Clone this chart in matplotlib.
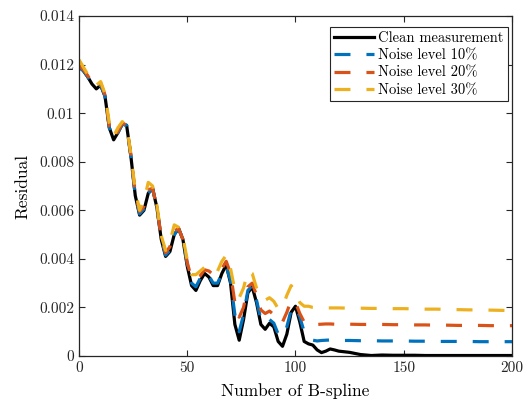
import numpy as np
import matplotlib
matplotlib.use('Agg')
import matplotlib.pyplot as plt
from matplotlib.ticker import FuncFormatter

plt.rcParams['font.family'] = ['cmr10', 'DejaVu Serif']
plt.rcParams['mathtext.fontset'] = 'cm'

# number of B-spline (x axis)
n_bspline = list(range(0, 122, 2)) + list(range(125, 205, 5))

# residual values, in units of 1e-3
clean = [11.9, 11.75, 11.5, 11.2, 11.0, 11.15, 10.7, 9.4, 8.9, 9.2,
         9.55, 9.5, 8.2, 6.6, 5.8, 6.0, 6.7, 6.9, 6.1, 4.8,
         4.1, 4.3, 5.0, 5.25, 4.8, 3.7, 2.9, 2.7, 3.1, 3.4,
         3.25, 2.9, 2.9, 3.4, 3.75, 3.0, 1.3, 0.65, 1.5, 2.6,
         2.85, 2.2, 1.3, 1.1, 1.35, 1.2, 0.6, 0.4, 0.9, 1.8,
         2.05, 1.4, 0.6, 0.5, 0.45, 0.25, 0.14, 0.2, 0.29, 0.25,
         0.2,
         0.15, 0.06, 0.02, 0.04, 0.03, 0.03, 0.03, 0.02, 0.02, 0.02,
         0.02, 0.02, 0.02, 0.02, 0.02, 0.02]
noise10 = [11.9, 11.75, 11.5, 11.2, 11.0, 11.15, 10.7, 9.4, 8.95, 9.2,
           9.55, 9.5, 8.2, 6.6, 5.85, 6.05, 6.7, 6.9, 6.1, 4.85,
           4.15, 4.35, 5.0, 5.25, 4.8, 3.8, 3.0, 2.85, 3.2, 3.45,
           3.3, 3.0, 3.0, 3.4, 3.7, 3.1, 1.7, 1.0, 1.7, 2.7,
           2.9, 2.3, 1.5, 1.35, 1.5, 1.35, 0.9, 0.8, 1.2, 1.9,
           2.05, 1.6, 1.0, 0.75, 0.65, 0.62, 0.64, 0.65, 0.66, 0.65,
           0.64,
           0.64, 0.63, 0.63, 0.62, 0.62, 0.62, 0.61, 0.61, 0.6, 0.6,
           0.6, 0.6, 0.59, 0.59, 0.59, 0.59]
noise20 = [11.95, 11.8, 11.55, 11.25, 11.05, 11.25, 10.75, 9.45, 9.0, 9.25,
           9.6, 9.5, 8.25, 6.7, 5.95, 6.15, 6.85, 6.9, 6.1, 4.9,
           4.25, 4.5, 5.15, 5.25, 4.8, 3.85, 3.2, 3.2, 3.3, 3.55,
           3.5, 3.35, 3.35, 3.6, 3.9, 3.4, 2.2, 1.6, 2.0, 2.85,
           3.0, 2.5, 1.9, 1.75, 1.85, 1.7, 1.4, 1.4, 1.8, 2.3,
           2.2, 1.75, 1.4, 1.3, 1.3, 1.3, 1.31, 1.32, 1.32, 1.31,
           1.31,
           1.31, 1.3, 1.3, 1.3, 1.29, 1.29, 1.28, 1.28, 1.27, 1.27,
           1.26, 1.26, 1.26, 1.25, 1.25, 1.25]
noise30 = [12.2, 11.9, 11.6, 11.3, 11.15, 11.3, 10.8, 9.6, 9.05, 9.4,
           9.65, 9.5, 8.3, 6.8, 6.0, 6.4, 7.15, 7.0, 6.2, 4.95,
           4.35, 4.7, 5.4, 5.3, 4.9, 3.95, 3.35, 3.35, 3.5, 3.65,
           3.55, 3.4, 3.5, 3.9, 4.15, 3.6, 2.7, 2.4, 2.8, 3.5,
           3.4, 2.8, 2.4, 2.3, 2.4, 2.25, 1.95, 2.0, 2.5, 2.9,
           2.65, 2.2, 2.05, 2.05, 2.0, 1.98, 1.98, 1.98, 1.98, 1.98,
           1.98,
           1.97, 1.97, 1.96, 1.96, 1.95, 1.95, 1.94, 1.93, 1.93, 1.92,
           1.91, 1.9, 1.9, 1.89, 1.88, 1.87]

labels = ['Clean measurement', 'Noise level 10%', 'Noise level 20%', 'Noise level 30%']
colors = ['black', '#0072BD', '#D95319', '#EDB120']

x = np.array(n_bspline)
series = [np.array(s) * 1e-3 for s in (clean, noise10, noise20, noise30)]

fig = plt.figure(figsize=(5.28, 4.03), dpi=100)
ax = fig.add_axes([0.1496, 0.1166, 0.8201, 0.8437])

for i, (y, c, lab) in enumerate(zip(series, colors, labels)):
    if i == 0:
        ax.plot(x, y, color=c, lw=2.3, label=lab, solid_joinstyle='round')
    else:
        ax.plot(x, y, color=c, lw=2.3, label=lab, dashes=(5.0, 5.0))

ax.set_xlim(0, 200)
ax.set_ylim(0, 0.014)
ax.set_xticks([0, 50, 100, 150, 200])
ax.set_yticks(np.arange(0, 0.0141, 0.002))
ax.yaxis.set_major_formatter(FuncFormatter(lambda v, p: '%g' % round(v, 6)))
ax.tick_params(direction='in', top=True, right=True, length=4, width=0.8,
               labelsize=11, colors='#262626')
for s in ax.spines.values():
    s.set_color('#262626')
    s.set_linewidth(0.9)

ax.set_xlabel('Number of B-spline', fontsize=12.5, labelpad=6)
ax.set_ylabel('Residual', fontsize=12.5, labelpad=6)

leg = ax.legend(loc='upper right', bbox_to_anchor=(0.991, 0.968), borderaxespad=0,
                fontsize=10.5, handlelength=2.7, handletextpad=0.3, labelspacing=0.25,
                borderpad=0.3, fancybox=False, framealpha=1, edgecolor='#262626')
leg.get_frame().set_linewidth(0.8)

plt.savefig('out.png', dpi=100)
